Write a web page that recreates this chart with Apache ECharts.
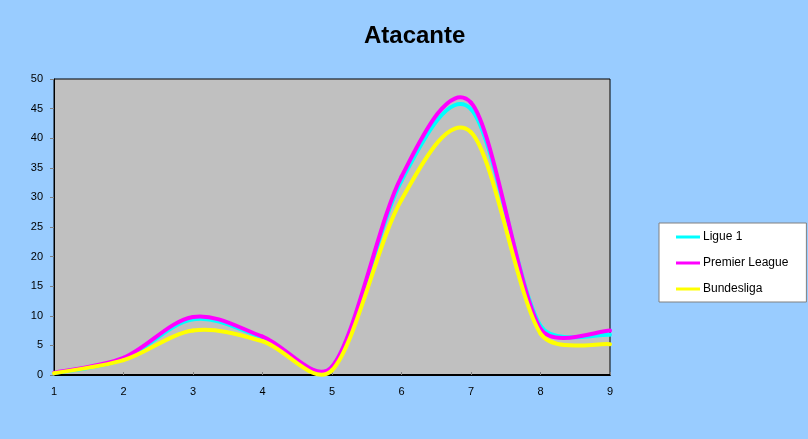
<!DOCTYPE html>
<html>
<head>
<meta charset="utf-8">
<script src="https://cdn.jsdelivr.net/npm/echarts@6/dist/echarts.min.js"></script>
<style>
html,body{margin:0;padding:0;background:#99CCFF;}
#c{width:808px;height:439px;}
</style>
</head>
<body>
<div id="c"></div>
<script>
var xValues = [1, 2, 3, 4, 5, 6, 7, 8, 9];
var ligue1 = [0.3, 2.7, 9.4, 6.3, 1.3, 32.8, 44.9, 8.3, 6.8];
var premier = [0.4, 2.9, 9.8, 6.5, 1.4, 33.5, 46.0, 7.8, 7.5];
var bundes = [0.3, 2.5, 7.5, 5.7, 0.8, 29.6, 41.0, 7.0, 5.2];
var seriesNames = ['Ligue 1', 'Premier League', 'Bundesliga'];
var seriesColors = ['#00FFFF', '#FF00FF', '#FFFF00'];
var dataSets = [ligue1, premier, bundes];

function pairs(arr) { return xValues.map(function (x, i) { return [x, arr[i]]; }); }
var FONT = 'Liberation Sans, Arial, sans-serif';

function dist(a, b) { var dx = a[0] - b[0], dy = a[1] - b[1]; return Math.sqrt(dx * dx + dy * dy); }

// Excel-like smoothed segment drawn from library coordinates
function makeRender(arr, color) {
  return function (params, api) {
    var i = params.dataIndex, n = arr.length;
    if (i >= n - 1) return null;
    var P = arr.map(function (v, k) { return api.coord([xValues[k], v]); });
    function handles(k) {
      var p0 = P[Math.max(k - 1, 0)], p1 = P[k], p2 = P[Math.min(k + 1, n - 1)];
      var vx = p2[0] - p0[0], vy = p2[1] - p0[1];
      var d02 = Math.sqrt(vx * vx + vy * vy) || 1;
      var d01 = dist(p0, p1), d12 = dist(p1, p2);
      var fin = Math.min(1 / 6, d01 / (3 * d02));
      var fout = Math.min(1 / 6, d12 / (3 * d02));
      return {
        inp: [p1[0] - vx * fin, p1[1] - vy * fin],
        out: [p1[0] + vx * fout, p1[1] + vy * fout]
      };
    }
    var a = handles(i), b = handles(i + 1);
    return {
      type: 'bezierCurve',
      shape: {
        x1: P[i][0], y1: P[i][1], x2: P[i + 1][0], y2: P[i + 1][1],
        cpx1: a.out[0], cpy1: a.out[1], cpx2: b.inp[0], cpy2: b.inp[1]
      },
      style: {stroke: color, lineWidth: 4, fill: null, lineCap: 'round', lineJoin: 'round'}
    };
  };
}

var chart = echarts.init(document.getElementById('c'), null, {renderer: 'canvas'});
chart.setOption({
  backgroundColor: '#99CCFF',
  animation: false,
  title: {
    text: 'Atacante', left: 359, top: 19,
    textStyle: {fontFamily: FONT, fontSize: 24, fontWeight: 'bold', color: '#000'}
  },
  legend: {
    orient: 'vertical', left: 659, top: 223,
    data: seriesNames.map(function (n, i) {
      return {name: n, icon: 'rect', itemStyle: {color: seriesColors[i]}};
    }),
    backgroundColor: '#FFFFFF', borderColor: '#808080', borderWidth: 1, borderRadius: 0,
    padding: [8, 18, 7, 17],
    itemWidth: 24, itemHeight: 3, itemGap: 14,
    textStyle: {fontFamily: FONT, fontSize: 12, color: '#000', padding: [0, 0, 0, -2]}
  },
  grid: {left: 54, right: 198, top: 79, bottom: 64, show: true, backgroundColor: '#C0C0C0', borderColor: '#000', borderWidth: 1},
  xAxis: {
    type: 'value', min: 1, max: 9, interval: 1,
    axisLine: {lineStyle: {color: '#000', width: 2}},
    axisTick: {show: true, inside: true, length: 3, lineStyle: {color: '#808080'}},
    axisLabel: {fontFamily: FONT, fontSize: 11, color: '#000', margin: 11},
    splitLine: {show: false}
  },
  yAxis: {
    type: 'value', min: 0, max: 50, interval: 5,
    axisLine: {show: true, lineStyle: {color: '#000', width: 1}},
    axisTick: {show: true, inside: false, length: 4, lineStyle: {color: '#808080'}},
    axisLabel: {fontFamily: FONT, fontSize: 11, color: '#000', margin: 11},
    splitLine: {show: false}
  },
  series: seriesNames.map(function (n, i) {
    return {
      name: n, type: 'custom',
      data: pairs(dataSets[i]),
      encode: {x: 0, y: 1},
      itemStyle: {color: seriesColors[i]},
      renderItem: makeRender(dataSets[i], seriesColors[i]),
      z: 2 + i
    };
  })
});
</script>
</body>
</html>
